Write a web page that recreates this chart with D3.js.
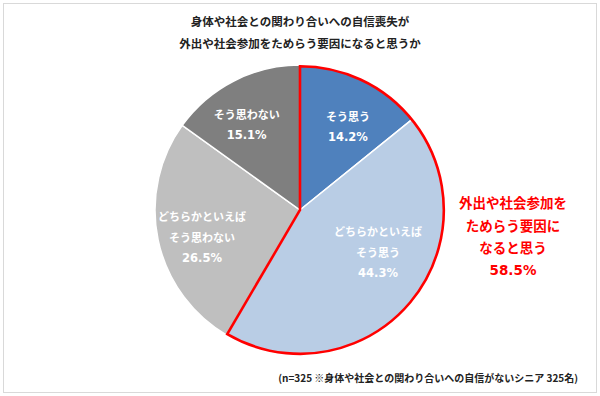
<!DOCTYPE html>
<html>
<head>
<meta charset="utf-8">
<script src="https://cdn.jsdelivr.net/npm/d3@7"></script>
<style>
  body { margin: 0; background: #fff; }
  text { font-family: "Noto Sans CJK JP", sans-serif; font-weight: bold; }
  text.num { font-family: "DejaVu Sans", sans-serif; }
</style>
</head>
<body>
<div id="chart"></div>
<script>
// CONSTANTS
const WIDTH = 600;
const HEIGHT = 396;
const RADIUS = 145;
const CX = 300;
const CY = 210;

// DATA
const titleLines = ["身体や社会との関わり合いへの自信喪失が", "外出や社会参加をためらう要因になると思うか"];
const categories = [
  ["そう思う"],
  ["どちらかといえば", "そう思う"],
  ["どちらかといえば", "そう思わない"],
  ["そう思わない"]
];
const values = [14.2, 44.3, 26.5, 15.1];
const highlightLines = ["外出や社会参加を", "ためらう要因に", "なると思う", "58.5%"];
const note = "(n=325 ※身体や社会との関わり合いへの自信がないシニア 325名)";

const colors = ["#4f81bd", "#b9cde5", "#bfbfbf", "#7f7f7f"];
// small label nudges, like the hand-placed labels in the original
const labelNudge = [[7, 2], [6, -20], [-5, 7], [-10, -1]];

const svg = d3.select("#chart")
  .append("svg")
  .attr("width", WIDTH)
  .attr("height", HEIGHT);

// frame
svg.append("rect")
  .attr("x", 3.5).attr("y", 3.5)
  .attr("width", 593).attr("height", 389)
  .attr("fill", "none")
  .attr("stroke", "#d9d9d9");

// title
svg.append("g")
  .selectAll("text")
  .data(titleLines)
  .enter()
  .append("text")
  .attr("x", WIDTH / 2)
  .attr("y", (d, i) => 26 + i * 22)
  .attr("text-anchor", "middle")
  .attr("font-size", 11.5)
  .attr("fill", "#222")
  .text(d => d);

const pie = d3.pie().sort(null).value(d => d);
const arcs = pie(values);
const arc = d3.arc().innerRadius(0).outerRadius(RADIUS);
const labelArc = d3.arc().innerRadius(95).outerRadius(95);

const g = svg.append("g").attr("transform", `translate(${CX},${CY})`);

g.selectAll("path.slice")
  .data(arcs)
  .enter()
  .append("path")
  .attr("class", "slice")
  .attr("d", arc)
  .attr("fill", (d, i) => colors[i])
  .attr("stroke", "#fff")
  .attr("stroke-width", 1.5);

// red outline around the "agree" slices
const agreeArc = {
  startAngle: arcs[0].startAngle,
  endAngle: arcs[1].endAngle
};
g.append("path")
  .attr("d", d3.arc().innerRadius(0).outerRadius(RADIUS - 1.2)(agreeArc))
  .attr("fill", "none")
  .attr("stroke", "#ff0000")
  .attr("stroke-width", 2.6)
  .attr("stroke-linejoin", "miter");

// slice labels
const labels = g.selectAll("g.label")
  .data(arcs)
  .enter()
  .append("g")
  .attr("class", "label")
  .attr("transform", (d, i) => {
    const c = labelArc.centroid(d);
    return `translate(${c[0] + labelNudge[i][0]},${c[1] + labelNudge[i][1]})`;
  });

labels.each(function (d, i) {
  const lines = categories[i].concat([d3.format(".1f")(values[i]) + "%"]);
  const n = lines.length;
  d3.select(this)
    .selectAll("text")
    .data(lines)
    .enter()
    .append("text")
    .attr("class", (t, j) => j === n - 1 ? "num" : null)
    .attr("text-anchor", "middle")
    .attr("dominant-baseline", "central")
    .attr("y", (t, j) => (j - (n - 1) / 2) * 21)
    .attr("font-size", (t, j) => j === n - 1 ? 11.5 : 11)
    .attr("fill", "#fff")
    .text(t => t);
});

// highlight label
svg.append("g")
  .selectAll("text")
  .data(highlightLines)
  .enter()
  .append("text")
  .attr("class", (d, i) => i === highlightLines.length - 1 ? "num" : null)
  .attr("x", 513)
  .attr("y", (d, i) => 202 + i * 22.7)
  .attr("text-anchor", "middle")
  .attr("dominant-baseline", "central")
  .attr("font-size", 13.5)
  .attr("fill", "#ff0000")
  .text(d => d);

// footnote
svg.append("text")
  .attr("x", 578)
  .attr("y", 377)
  .attr("text-anchor", "end")
  .attr("dominant-baseline", "central")
  .attr("font-size", 10)
  .attr("fill", "#222")
  .text(note);
</script>
</body>
</html>
